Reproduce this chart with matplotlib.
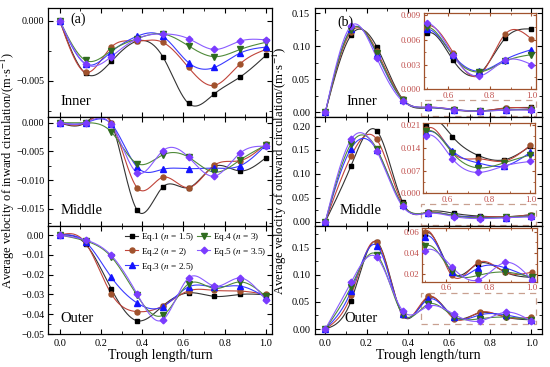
import numpy as np
import matplotlib
matplotlib.use("Agg")
import matplotlib.pyplot as plt
from matplotlib.patches import Rectangle
from matplotlib.ticker import MultipleLocator, AutoMinorLocator

plt.rcParams['font.family'] = ['Liberation Serif', 'DejaVu Serif']
plt.rcParams['mathtext.fontset'] = 'stix'

# ---------------- data ----------------
x_turn = [0, 0.125, 0.25, 0.375, 0.5, 0.625, 0.75, 0.875, 1.0]
series_labels = ['Eq.1 ($n$ = 1.5)', 'Eq.2 ($n$ = 2)', 'Eq.3 ($n$ = 2.5)',
                 'Eq.4 ($n$ = 3)', 'Eq.5 ($n$ = 3.5)']

# inward circulation
in_inner_eq1 = [0, -0.0044, -0.0034, -0.0017, -0.0030, -0.0069, -0.0061, -0.0047, -0.0029]
in_inner_eq2 = [0, -0.0043, -0.0022, -0.0017, -0.0018, -0.0039, -0.0054, -0.0036, -0.0024]
in_inner_eq3 = [0, -0.0036, -0.0026, -0.0013, -0.0013, -0.0035, -0.0039, -0.0027, -0.0022]
in_inner_eq4 = [0, -0.0033, -0.0025, -0.0015, -0.0011, -0.0021, -0.0030, -0.0024, -0.0018]
in_inner_eq5 = [0, -0.0036, -0.0030, -0.0015, -0.0011, -0.0015, -0.0024, -0.0017, -0.0016]

in_middle_eq1 = [0, 0, 0, -0.0152, -0.0112, -0.0113, -0.0076, -0.0084, -0.0061]
in_middle_eq2 = [0, 0, 0, -0.0113, -0.0095, -0.0113, -0.0074, -0.0066, -0.0037]
in_middle_eq3 = [0, 0, -0.0002, -0.0077, -0.0081, -0.0080, -0.0079, -0.0075, -0.0039]
in_middle_eq4 = [0, 0, -0.0016, -0.0071, -0.0056, -0.0060, -0.0086, -0.0065, -0.0039]
in_middle_eq5 = [0, 0, -0.0003, -0.0087, -0.0049, -0.0060, -0.0093, -0.0053, -0.0041]

in_outer_eq1 = [0, -0.0045, -0.0272, -0.0433, -0.0358, -0.0292, -0.0310, -0.0300, -0.0302]
in_outer_eq2 = [0, -0.0040, -0.0297, -0.0387, -0.0358, -0.0282, -0.0280, -0.0283, -0.0300]
in_outer_eq3 = [0, -0.0035, -0.0213, -0.0343, -0.0362, -0.0262, -0.0262, -0.0258, -0.0315]
in_outer_eq4 = [0, -0.0030, -0.0110, -0.0305, -0.0405, -0.0247, -0.0270, -0.0237, -0.0310]
in_outer_eq5 = [0, -0.0025, -0.0103, -0.0297, -0.0428, -0.0217, -0.0258, -0.0217, -0.0328]

# outward circulation
out_inner_eq1 = [0, 0.117, 0.099, 0.020, 0.0068, 0.0035, 0.0019, 0.0062, 0.0073]
out_inner_eq2 = [0, 0.122, 0.093, 0.020, 0.0077, 0.0044, 0.0017, 0.0067, 0.0061]
out_inner_eq3 = [0, 0.126, 0.088, 0.019, 0.0073, 0.0041, 0.0022, 0.0036, 0.0048]
out_inner_eq4 = [0, 0.125, 0.090, 0.019, 0.0075, 0.0040, 0.0021, 0.0034, 0.0042]
out_inner_eq5 = [0, 0.131, 0.082, 0.017, 0.0080, 0.0041, 0.0016, 0.0035, 0.0030]

out_middle_eq1 = [0, 0.117, 0.190, 0.041, 0.0207, 0.0174, 0.0116, 0.0103, 0.0145]
out_middle_eq2 = [0, 0.137, 0.172, 0.038, 0.0197, 0.0126, 0.0106, 0.0099, 0.0148]
out_middle_eq3 = [0, 0.153, 0.150, 0.034, 0.0186, 0.0131, 0.0093, 0.0084, 0.0126]
out_middle_eq4 = [0, 0.163, 0.152, 0.035, 0.0190, 0.0124, 0.0078, 0.0094, 0.0118]
out_middle_eq5 = [0, 0.172, 0.148, 0.032, 0.0177, 0.0106, 0.0064, 0.0084, 0.0098]

out_outer_eq1 = [0, 0.052, 0.161, 0.026, 0.058, 0.022, 0.030, 0.022, 0.017]
out_outer_eq2 = [0, 0.062, 0.160, 0.026, 0.060, 0.019, 0.031, 0.022, 0.022]
out_outer_eq3 = [0, 0.070, 0.154, 0.027, 0.055, 0.022, 0.026, 0.026, 0.016]
out_outer_eq4 = [0, 0.078, 0.137, 0.028, 0.046, 0.023, 0.019, 0.022, 0.017]
out_outer_eq5 = [0, 0.086, 0.132, 0.034, 0.042, 0.027, 0.0147, 0.031, 0.0147]

# ---------------- style ----------------
colors = ['#000000', '#a0522d', '#1414ff', '#2f6b1f', '#7b3cff']
line_colors = ['#333333', '#c0443a', '#3a3aff', '#4f8a3a', '#8a5cff']
markers = ['s', 'o', '^', 'v', 'D']
msizes = [3.2, 3.6, 3.8, 3.8, 3.4]
inset_edge = '#a0522d'
inset_text = '#c0504d'
dash_col = '#c8a090'


def natural_spline(x, y, n=300):
    x = np.asarray(x, float)
    y = np.asarray(y, float)
    N = len(x)
    h = np.diff(x)
    A = np.zeros((N, N))
    r = np.zeros(N)
    A[0, 0] = A[-1, -1] = 1
    for i in range(1, N - 1):
        A[i, i - 1] = h[i - 1]
        A[i, i] = 2 * (h[i - 1] + h[i])
        A[i, i + 1] = h[i]
        r[i] = 3 * ((y[i + 1] - y[i]) / h[i] - (y[i] - y[i - 1]) / h[i - 1])
    c = np.linalg.solve(A, r)
    b = (y[1:] - y[:-1]) / h - h * (2 * c[:-1] + c[1:]) / 3
    d = (c[1:] - c[:-1]) / (3 * h)
    xs = np.linspace(x[0], x[-1], n)
    idx = np.clip(np.searchsorted(x, xs) - 1, 0, N - 2)
    dx = xs - x[idx]
    ys = y[idx] + b[idx] * dx + c[idx] * dx ** 2 + d[idx] * dx ** 3
    return xs, ys


def draw_series(ax, data, ms_scale=1.0):
    for k, ys in enumerate(data):
        xs, yy = natural_spline(x_turn, ys)
        ax.plot(xs, yy, color=line_colors[k], lw=0.8, zorder=2)
        ax.plot(x_turn, ys, ls='none', marker=markers[k], ms=msizes[k] * ms_scale,
                color=colors[k], mec=colors[k], zorder=3)


def style_axes(ax, labelbottom=False, labelsize=7.5):
    ax.tick_params(which='both', direction='in', top=True, right=True, labelsize=labelsize)
    ax.tick_params(which='major', length=3.5, width=0.8)
    ax.tick_params(which='minor', length=2, width=0.6)
    ax.xaxis.set_major_locator(MultipleLocator(0.2))
    ax.xaxis.set_minor_locator(MultipleLocator(0.1))
    ax.yaxis.set_minor_locator(AutoMinorLocator(2))
    if not labelbottom:
        ax.tick_params(labelbottom=False)
    for s in ax.spines.values():
        s.set_linewidth(0.9)


W, H = 550, 367
fig = plt.figure(figsize=(W / 100, H / 100), dpi=100)


def fx(px):
    return px / W


def fy(py):
    return 1 - py / H

rows = [(8, 117), (117, 225.5), (225.5, 334)]
lcol = (48, 272)
rcol = (315, 541.7)


def make_ax(col, row):
    x0, x1 = col
    y0, y1 = row
    return fig.add_axes([fx(x0), fy(y1), fx(x1) - fx(x0), (y1 - y0) / H])

# ---------- left column ----------
left_data = [
    [in_inner_eq1, in_inner_eq2, in_inner_eq3, in_inner_eq4, in_inner_eq5],
    [in_middle_eq1, in_middle_eq2, in_middle_eq3, in_middle_eq4, in_middle_eq5],
    [in_outer_eq1, in_outer_eq2, in_outer_eq3, in_outer_eq4, in_outer_eq5],
]
left_ylims = [(-0.00803, 0.00106), (-0.0179, 0.001), (-0.05, 0.0048)]
left_yticks = [[-0.005, 0.0], [-0.015, -0.010, -0.005, 0.0],
               [-0.05, -0.04, -0.03, -0.02, -0.01, 0.0]]
left_fmt = ['{:.3f}', '{:.3f}', '{:.2f}']
region_names = ['Inner', 'Middle', 'Outer']

left_axes = []
for i in range(3):
    ax = make_ax(lcol, rows[i])
    draw_series(ax, left_data[i])
    ax.set_xlim(-0.057, 1.03)
    ax.set_ylim(*left_ylims[i])
    style_axes(ax, labelbottom=(i == 2), labelsize=7.2)
    ax.set_yticks(left_yticks[i])
    ax.set_yticklabels([left_fmt[i].format(v).replace('-', '\u2212') for v in left_yticks[i]])
    ax.tick_params(axis='y', pad=2.5)
    ax.text(0.055, 0.08, region_names[i], transform=ax.transAxes, fontsize=10.5, va='bottom')
    left_axes.append(ax)
left_axes[2].tick_params(axis='x', labelsize=7.5)

left_axes[0].text(0.1, 0.9, '(a)', transform=left_axes[0].transAxes, fontsize=10, va='center')
left_axes[2].set_xticks([0, 0.2, 0.4, 0.6, 0.8, 1.0])
left_axes[2].set_xticklabels(['0.0', '0.2', '0.4', '0.6', '0.8', '1.0'])

handles = []
for k in range(5):
    h, = left_axes[2].plot([], [], color=line_colors[k], lw=0.8, marker=markers[k],
                           ms=msizes[k], mfc=colors[k], mec=colors[k])
    handles.append(h)
left_axes[2].legend(handles, series_labels, ncol=2, frameon=False, fontsize=6.7,
                    loc='upper left', bbox_to_anchor=(0.345, 0.95), handlelength=1.4,
                    handletextpad=0.3, columnspacing=0.3, labelspacing=0.3,
                    borderaxespad=0.0, borderpad=0.0)

# ---------- right column ----------
right_data = [
    [out_inner_eq1, out_inner_eq2, out_inner_eq3, out_inner_eq4, out_inner_eq5],
    [out_middle_eq1, out_middle_eq2, out_middle_eq3, out_middle_eq4, out_middle_eq5],
    [out_outer_eq1, out_outer_eq2, out_outer_eq3, out_outer_eq4, out_outer_eq5],
]
right_ylims = [(-0.0071, 0.158), (-0.008, 0.219), (-0.0092, 0.191)]
right_yticks = [[0, 0.05, 0.10, 0.15], [0, 0.05, 0.10, 0.15, 0.20],
                [0, 0.05, 0.10, 0.15]]
rects = [(-0.006, 0.0186), (-0.006, 0.036), (0.009, 0.067)]
inset_boxes = [(424, 536, 13.3, 89.3), (423.3, 535, 123.3, 193.3), (421.7, 536.7, 228.3, 281.7)]
inset_ylims = [(0, 0.0092), (0, 0.0215), (0.013, 0.063)]
inset_yticks = [[0, 0.003, 0.006, 0.009], [0, 0.007, 0.014, 0.021], [0.02, 0.04, 0.06]]
inset_fmt = ['{:.3f}', '{:.3f}', '{:.2f}']
right_name_x = [0.14, 0.11, 0.13]

right_axes = []
for i in range(3):
    ax = make_ax(rcol, rows[i])
    draw_series(ax, right_data[i])
    ax.set_xlim(-0.05, 1.05)
    ax.set_ylim(*right_ylims[i])
    style_axes(ax, labelbottom=(i == 2))
    ax.set_yticks(right_yticks[i])
    ax.set_yticklabels(['{:.2f}'.format(v) for v in right_yticks[i]])
    ax.text(right_name_x[i], 0.08, region_names[i], transform=ax.transAxes, fontsize=10.5,
            va='bottom')
    y0, y1 = rects[i]
    ax.add_patch(Rectangle((0.466, y0), 1.02 - 0.466, y1 - y0, fill=False,
                           ec=dash_col, lw=0.9, ls=(0, (5, 4)), zorder=1))
    right_axes.append(ax)

    # inset
    x0, x1, t0, t1 = inset_boxes[i]
    ia = fig.add_axes([fx(x0), fy(t1), fx(x1) - fx(x0), (t1 - t0) / H])
    draw_series(ia, right_data[i], ms_scale=0.95)
    ia.set_xlim(0.485, 1.022)
    ia.set_ylim(*inset_ylims[i])
    ia.set_xticks([0.6, 0.8, 1.0])
    ia.set_xticklabels(['0.6', '0.8', '1.0'])
    ia.xaxis.set_minor_locator(MultipleLocator(0.1))
    ia.set_yticks(inset_yticks[i])
    ia.set_yticklabels([inset_fmt[i].format(v) for v in inset_yticks[i]])
    ia.yaxis.set_minor_locator(AutoMinorLocator(2))
    ia.tick_params(which='both', direction='in', top=True, right=True, labelsize=6.5,
                   colors=inset_edge, labelcolor=inset_text, pad=2)
    ia.tick_params(which='major', length=2.5)
    ia.tick_params(which='minor', length=1.5)
    for s in ia.spines.values():
        s.set_color(inset_edge)
        s.set_linewidth(0.9)

right_axes[0].text(0.1, 0.87, '(b)', transform=right_axes[0].transAxes, fontsize=10, va='center')
right_axes[2].set_xticks([0, 0.2, 0.4, 0.6, 0.8, 1.0])
right_axes[2].set_xticklabels(['0.0', '0.2', '0.4', '0.6', '0.8', '1.0'])

# axis labels
fig.text(fx(160), fy(356), 'Trough length/turn', ha='center', va='center', fontsize=10)
fig.text(fx(428), fy(356), 'Trough length/turn', ha='center', va='center', fontsize=10)
fig.text(fx(8), fy(171), 'Average velocity of inward circulation/(m\u00b7s$^{-1}$)',
         rotation=90, ha='center', va='center', fontsize=9)
fig.text(fx(280), fy(171), 'Average velocity of outward circulation/(m\u00b7s$^{-1}$)',
         rotation=90, ha='center', va='center', fontsize=9.2)

fig.savefig('out.png', dpi=100)
